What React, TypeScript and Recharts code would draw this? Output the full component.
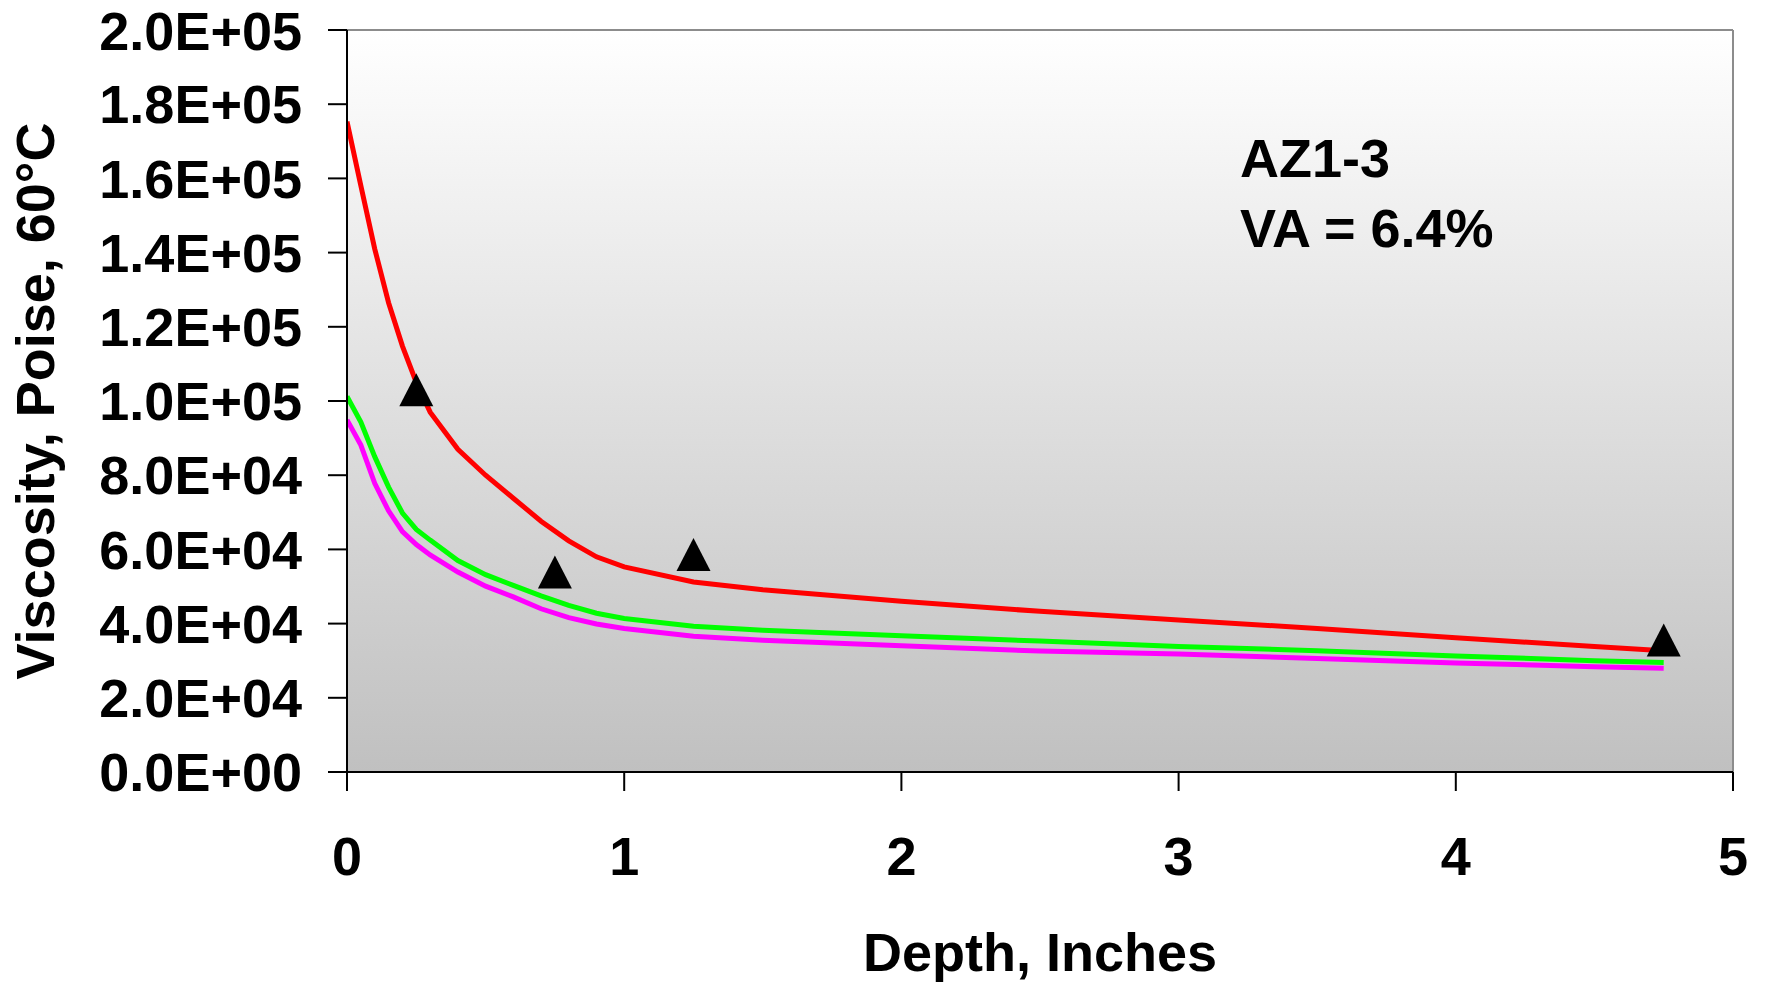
import { ComposedChart, Line, Scatter, XAxis, YAxis, CartesianGrid, ReferenceLine } from 'recharts';

const depths = [0, 0.05, 0.1, 0.15, 0.2, 0.25, 0.3, 0.4, 0.5, 0.6, 0.7, 0.8, 0.9, 1.0, 1.25, 1.5, 2.0, 2.5, 3.0, 3.5, 4.0, 4.5, 4.75];
const redModel = [175300, 158000, 141000, 126500, 114800, 105000, 97000, 87000, 80000, 73800, 67600, 62300, 58000, 55300, 51200, 49100, 46000, 43300, 41000, 38700, 36200, 33800, 32700];
const greenModel = [101200, 94300, 85000, 76800, 69800, 65400, 62500, 57000, 53200, 50300, 47500, 44900, 42800, 41400, 39300, 38200, 36700, 35300, 33800, 32700, 31300, 30000, 29500];
const magentaModel = [94900, 88100, 77800, 70400, 64800, 61300, 58500, 53900, 50100, 47200, 44000, 41600, 39900, 38700, 36600, 35500, 34000, 32600, 31800, 30600, 29400, 28400, 27950];

const measuredDepths = [0.25, 0.75, 1.25, 4.75];
const measuredVisc = [103000, 53900, 58600, 35600];

const xTicks = [0, 1, 2, 3, 4, 5];
const yTicks = [0, 20000, 40000, 60000, 80000, 100000, 120000, 140000, 160000, 180000, 200000];

const lineData = depths.map((d, i) => ({
  depth: d,
  red: redModel[i],
  green: greenModel[i],
  magenta: magentaModel[i],
}));

const measuredData = measuredDepths.map((d, i) => ({ depth: d, visc: measuredVisc[i] }));

const FONT = '"Liberation Sans", Arial, sans-serif';
const tickStyle = { fill: '#000', fontSize: 54, fontWeight: 700, fontFamily: FONT };

// 2.0E+05 style labels like Excel
function sci(v: number) {
  const [m, e] = v.toExponential(1).split('e');
  const sign = e[0] === '-' ? '-' : '+';
  const exp = e.replace(/^[+-]/, '').padStart(2, '0');
  return `${m}E${sign}${exp}`;
}

function Triangle(props: any) {
  const { cx, cy } = props;
  if (cx == null || cy == null) return null;
  const w = 17;
  const h = 16.5;
  return <path d={`M${cx},${cy - h} L${cx + w},${cy + h} L${cx - w},${cy + h} Z`} fill="#000" />;
}

export default function App() {
  return (
    <div style={{ position: 'absolute', left: 0, top: 0, width: 1766, height: 982, background: '#fff' }}>
      <ComposedChart
        width={1766}
        height={982}
        data={lineData}
        margin={{ top: 30, right: 33, left: 0, bottom: 0 }}
      >
        <defs>
          <linearGradient id="plotBg" x1="0" y1="0" x2="0" y2="1">
            <stop offset="0%" stopColor="#ffffff" />
            <stop offset="100%" stopColor="#c0c0c0" />
          </linearGradient>
        </defs>
        <CartesianGrid fill="url(#plotBg)" horizontal={false} vertical={false} />
        <ReferenceLine y={200000} stroke="#8c8c8c" strokeWidth={2} />
        <ReferenceLine x={5} stroke="#8c8c8c" strokeWidth={2} />
        <XAxis
          type="number"
          dataKey="depth"
          domain={[0, 5]}
          ticks={xTicks}
          allowDataOverflow
          height={210}
          tickSize={19}
          tickMargin={46}
          tick={tickStyle}
          axisLine={{ stroke: '#000', strokeWidth: 2 }}
          tickLine={{ stroke: '#000', strokeWidth: 2 }}
          label={{
            value: 'Depth, Inches',
            position: 'insideBottom',
            offset: 11,
            fill: '#000',
            fontSize: 54,
            fontWeight: 700,
            fontFamily: FONT,
          }}
        />
        <YAxis
          type="number"
          domain={[0, 200000]}
          ticks={yTicks}
          allowDataOverflow
          width={347}
          tickSize={19}
          tickMargin={26}
          tick={tickStyle}
          tickFormatter={sci}
          axisLine={{ stroke: '#000', strokeWidth: 2 }}
          tickLine={{ stroke: '#000', strokeWidth: 2 }}
        />
        <Line type="linear" dataKey="red" stroke="#ff0000" strokeWidth={5} dot={false} isAnimationActive={false} />
        <Line type="linear" dataKey="green" stroke="#00ff00" strokeWidth={5} dot={false} isAnimationActive={false} />
        <Line type="linear" dataKey="magenta" stroke="#ff00ff" strokeWidth={5} dot={false} isAnimationActive={false} />
        <Scatter data={measuredData} dataKey="visc" shape={<Triangle />} isAnimationActive={false} />
      </ComposedChart>
      <svg width={1766} height={982} style={{ position: 'absolute', left: 0, top: 0, pointerEvents: 'none' }}>
        <text
          transform="rotate(-90)"
          x={-401}
          y={54}
          textAnchor="middle"
          fill="#000"
          fontSize={54}
          fontWeight={700}
          fontFamily={FONT}
        >
          Viscosity, Poise, 60°C
        </text>
        <text x={1240} y={177} fill="#000" fontSize={54} fontWeight={700} fontFamily={FONT}>
          AZ1-3
        </text>
        <text x={1240} y={247} fill="#000" fontSize={54} fontWeight={700} fontFamily={FONT}>
          VA = 6.4%
        </text>
      </svg>
    </div>
  );
}
